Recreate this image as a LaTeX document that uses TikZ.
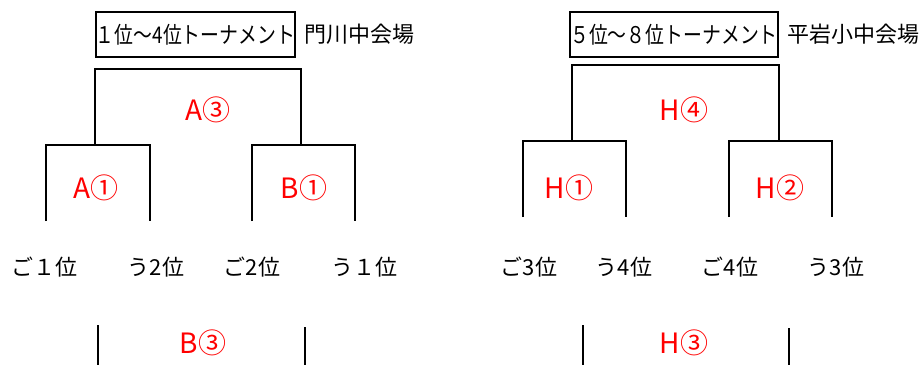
\documentclass[tikz,border=0pt]{standalone}
\usepackage{fontspec}
\newfontfamily\jp{Noto Sans CJK JP}
\newfontfamily\jpn[FakeStretch=0.82]{Noto Sans CJK JP}
\begin{document}
\begin{tikzpicture}[x=1pt,y=-1pt,
  line/.style={draw=black,line width=1.8pt},
  title/.style={draw=black,line width=1.8pt,inner sep=0pt,minimum height=45pt,font=\jpn\fontsize{23}{23}\selectfont},
  venue/.style={anchor=west,inner sep=0pt,font=\jp\fontsize{22}{22}\selectfont},
  match/.style={text=red,inner sep=0pt,font=\jp\fontsize{28}{28}\selectfont},
  team/.style={inner sep=0pt,font=\jp\fontsize{22}{22}\selectfont}]
\useasboundingbox (0,0) rectangle (920,365);
\fill[white] (0,0) rectangle (920,365);
% ---------- left tournament ----------
\node[title,minimum width=199pt] (t1) at (195.5,34.5) {１位～4位トーナメント};
\node[venue] (v1) at (304,34) {門川中会場};
\coordinate (a3l) at (95,69); \coordinate (a3r) at (301,69);
\coordinate (a3lb) at (95,145); \coordinate (a3rb) at (301,145);
\draw[line] (a3lb) -- (a3l) -- (a3r) -- (a3rb);
\coordinate (a1l) at (46,145); \coordinate (a1r) at (150,145);
\coordinate (a1lb) at (46,221); \coordinate (a1rb) at (150,221);
\draw[line] (a1lb) -- (a1l) -- (a1r) -- (a1rb);
\coordinate (b1l) at (252,145); \coordinate (b1r) at (355,145);
\coordinate (b1lb) at (252,221); \coordinate (b1rb) at (355,221);
\draw[line] (b1lb) -- (b1l) -- (b1r) -- (b1rb);
\node[match] (A3) at (208,110) {A③};
\node[match] (A1) at (96,188) {A①};
\node[match] (B1) at (304,188) {B①};
\node[team] (l1) at (45,267) {ご１位};
\node[team] (l2) at (156,267) {う2位};
\node[team] (l3) at (252,267) {ご2位};
\node[team] (l4) at (364,267) {う１位};
\coordinate (b3lt) at (98,325); \coordinate (b3lb) at (98,365);
\coordinate (b3rt) at (305,327); \coordinate (b3rb) at (305,365);
\draw[line] (b3lt) -- (b3lb);
\draw[line] (b3rt) -- (b3rb);
\node[match] (B3) at (203,343) {B③};
% ---------- right tournament ----------
\node[title,minimum width=204pt] (t2) at (674,34.5) {５位～８位トーナメント};
\node[venue] (v2) at (787,34) {平岩小中会場};
\coordinate (h4l) at (572,65); \coordinate (h4r) at (779,65);
\coordinate (h4lb) at (572,141); \coordinate (h4rb) at (779,141);
\draw[line] (h4lb) -- (h4l) -- (h4r) -- (h4rb);
\coordinate (h1l) at (523,141); \coordinate (h1r) at (626,141);
\coordinate (h1lb) at (523,217); \coordinate (h1rb) at (626,217);
\draw[line] (h1lb) -- (h1l) -- (h1r) -- (h1rb);
\coordinate (h2l) at (729,141); \coordinate (h2r) at (832,141);
\coordinate (h2lb) at (729,217); \coordinate (h2rb) at (832,217);
\draw[line] (h2lb) -- (h2l) -- (h2r) -- (h2rb);
\node[match] (H4) at (684,110) {H④};
\node[match] (H1) at (569,188) {H①};
\node[match] (H2) at (780,188) {H②};
\node[team] (r1) at (529,267) {ご3位};
\node[team] (r2) at (624,267) {う4位};
\node[team] (r3) at (730,267) {ご4位};
\node[team] (r4) at (836,267) {う3位};
\coordinate (h3lt) at (583,325); \coordinate (h3lb) at (583,365);
\coordinate (h3rt) at (789,328); \coordinate (h3rb) at (789,365);
\draw[line] (h3lt) -- (h3lb);
\draw[line] (h3rt) -- (h3rb);
\node[match] (H3) at (684,343) {H③};
\end{tikzpicture}
\end{document}
